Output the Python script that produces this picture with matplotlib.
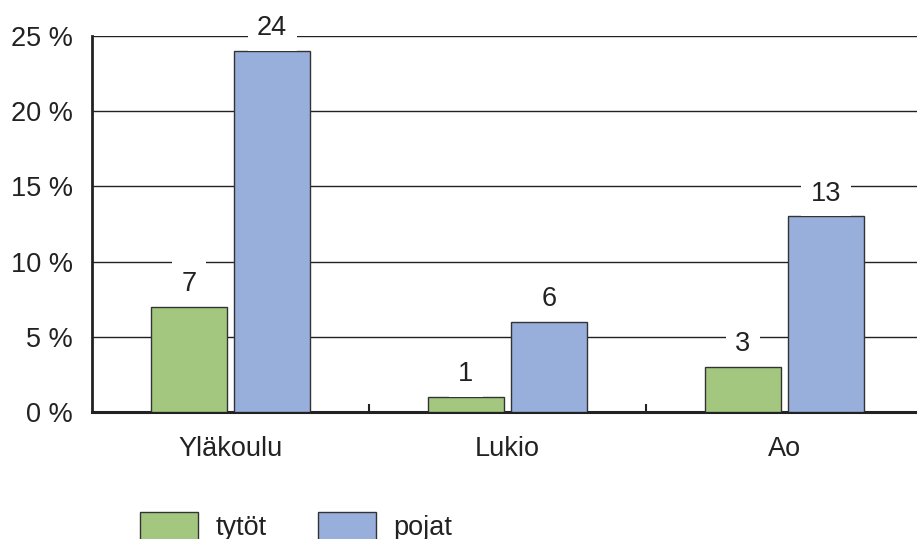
import matplotlib.pyplot as plt
import numpy as np

plt.rcParams['font.family'] = ['Liberation Sans', 'DejaVu Sans']

categories = ['Yläkoulu', 'Lukio', 'Ao']
tytot = [7, 1, 3]
pojat = [24, 6, 13]
series_names = ['tytöt', 'pojat']
green = '#a3c77f'
blue = '#97afda'
fs = 19.5

fig = plt.figure(figsize=(9.17, 5.39), dpi=100)
ax = fig.add_axes([92 / 917, 1 - 412 / 539, 1 - 92 / 917, (412 - 36) / 539])

x = np.arange(len(categories))
w = 0.274
off = 0.15
b1 = ax.bar(x - off, tytot, w, color=green, edgecolor='#333333', linewidth=1, zorder=3, label=series_names[0])
b2 = ax.bar(x + off, pojat, w, color=blue, edgecolor='#333333', linewidth=1, zorder=3, label=series_names[1])

for bars, vals in ((b1, tytot), (b2, pojat)):
    for r, v in zip(bars, vals):
        ax.annotate(str(v), (r.get_x() + r.get_width() / 2, v), xytext=(0, 16.5),
                    textcoords='offset points', ha='center', va='center', fontsize=fs,
                    color='#222222', zorder=5,
                    bbox=dict(boxstyle='square,pad=0.35', fc='white', ec='none'))

ax.set_xlim(-0.5, 2.478)
ax.set_ylim(0, 25)
ax.set_yticks(range(0, 26, 5))
ax.set_yticklabels([f'{v} %' for v in range(0, 26, 5)], fontsize=fs, color='#222222')
ax.tick_params(axis='y', length=0, pad=14)
ax.set_xticks(x)
ax.set_xticklabels(categories, fontsize=fs, color='#222222')
ax.tick_params(axis='x', which='major', length=0, pad=17)
ax.set_xticks([0.5, 1.5], minor=True)
ax.tick_params(axis='x', which='minor', direction='in', length=6, width=1.5, color='#222222')

ax.yaxis.grid(True, color='#222222', linewidth=1, zorder=0)
ax.set_axisbelow(True)
for s in ('top', 'right'):
    ax.spines[s].set_visible(False)
ax.spines['left'].set_linewidth(2)
ax.spines['bottom'].set_linewidth(2.2)
ax.spines['left'].set_color('#222222')
ax.spines['bottom'].set_color('#222222')

fig.legend(handles=[b1, b2], loc='upper left', bbox_to_anchor=(140 / 917, 1 - 512 / 539),
           ncol=2, frameon=False, fontsize=fs, handlelength=2.15, handleheight=1.2,
           columnspacing=1.9, handletextpad=0.63, labelcolor='#222222',
           borderpad=0, borderaxespad=0)

fig.savefig('out.png', dpi=100)
